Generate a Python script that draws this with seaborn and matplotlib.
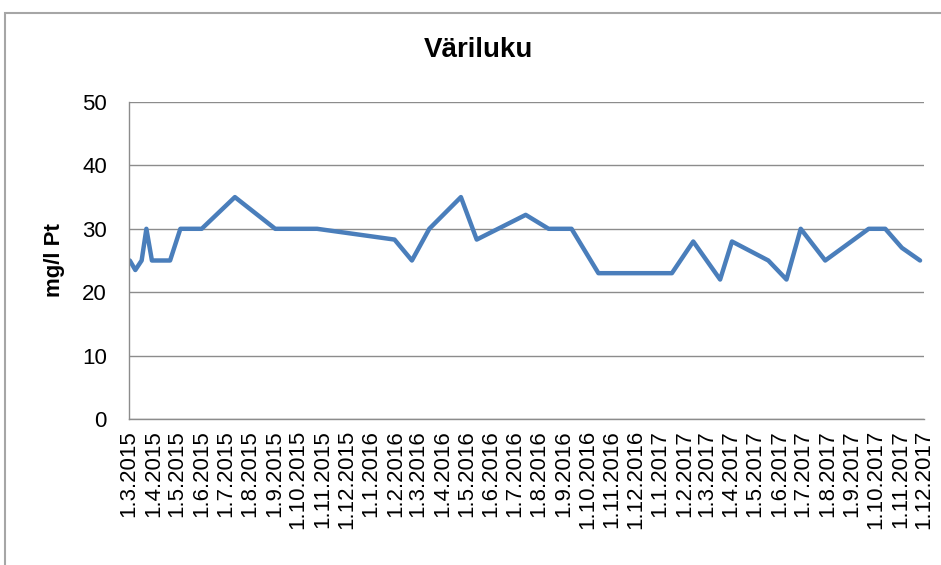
import pandas as pd
import seaborn as sns
import matplotlib.pyplot as plt
from matplotlib.patches import Rectangle

# Värilukumittaukset (mg/l Pt)
dates = ['2015-03-02', '2015-03-09', '2015-03-17', '2015-03-23', '2015-03-30',
         '2015-04-22', '2015-05-05', '2015-06-01', '2015-07-13', '2015-09-02',
         '2015-10-25', '2016-01-31', '2016-02-22', '2016-03-15', '2016-04-24',
         '2016-05-14', '2016-07-15', '2016-08-13', '2016-09-11', '2016-10-15',
         '2017-01-16', '2017-02-12', '2017-03-18', '2017-04-02', '2017-05-18',
         '2017-06-10', '2017-06-28', '2017-07-29', '2017-09-22', '2017-10-13',
         '2017-11-03', '2017-11-26']
values = [25, 23.5, 25, 30, 25,
          25, 30, 30, 35, 30,
          30, 28.3, 25, 30, 35,
          28.3, 32.2, 30, 30, 23,
          23, 28, 22, 28, 25,
          22, 30, 25, 30, 30,
          27, 25]
y_ticks = [0, 10, 20, 30, 40, 50]

df = pd.DataFrame({'pvm': pd.to_datetime(dates), 'arvo': values})

sns.set_style('white')
plt.rcParams['font.family'] = ['Liberation Sans', 'DejaVu Sans']
plt.rcParams['text.color'] = 'black'
plt.rcParams['xtick.color'] = 'black'
plt.rcParams['ytick.color'] = 'black'
plt.rcParams['axes.labelcolor'] = 'black'

fig = plt.figure(figsize=(9.41, 5.65), dpi=100)
ax = fig.add_axes([129 / 941, 1 - 419 / 565, (924 - 129) / 941, (419 - 102) / 565])

sns.lineplot(data=df, x='pvm', y='arvo', ax=ax, color='#4A7EBB', linewidth=3.2)

# kuukausittaiset akselimerkinnät
months = pd.date_range('2015-03-01', '2017-12-01', freq='MS')
ax.set_xticks(months)
ax.set_xticklabels([f'{d.day}.{d.month}.{d.year}' for d in months],
                   rotation=90, fontsize=16)
ax.set_xlim(months[0], months[-1])
ax.set_ylim(0, 50)
ax.set_yticks(y_ticks)
ax.tick_params(axis='y', labelsize=16, length=0, pad=16)
ax.tick_params(axis='x', length=0, pad=8)
ax.grid(axis='y', color='#8c8c8c', linewidth=1)
ax.set_axisbelow(True)
for side in ['top', 'right']:
    ax.spines[side].set_visible(False)
for side in ['left', 'bottom']:
    ax.spines[side].set_color('#8c8c8c')
    ax.spines[side].set_linewidth(1)

ax.set_xlabel('')
ax.set_ylabel('mg/l Pt', fontsize=16, fontweight='bold', labelpad=12)
fig.text(478 / 941, 1 - 50 / 565, 'Väriluku', ha='center', va='center',
         fontsize=20, fontweight='bold')

# kaavion reunus
fig.patches.append(Rectangle((5 / 941, -0.02), 1.0, 1 - 13 / 565 + 0.02,
                             transform=fig.transFigure, fill=False,
                             edgecolor='#a6a6a6', linewidth=1.5))

fig.savefig('out.png', dpi=100)
